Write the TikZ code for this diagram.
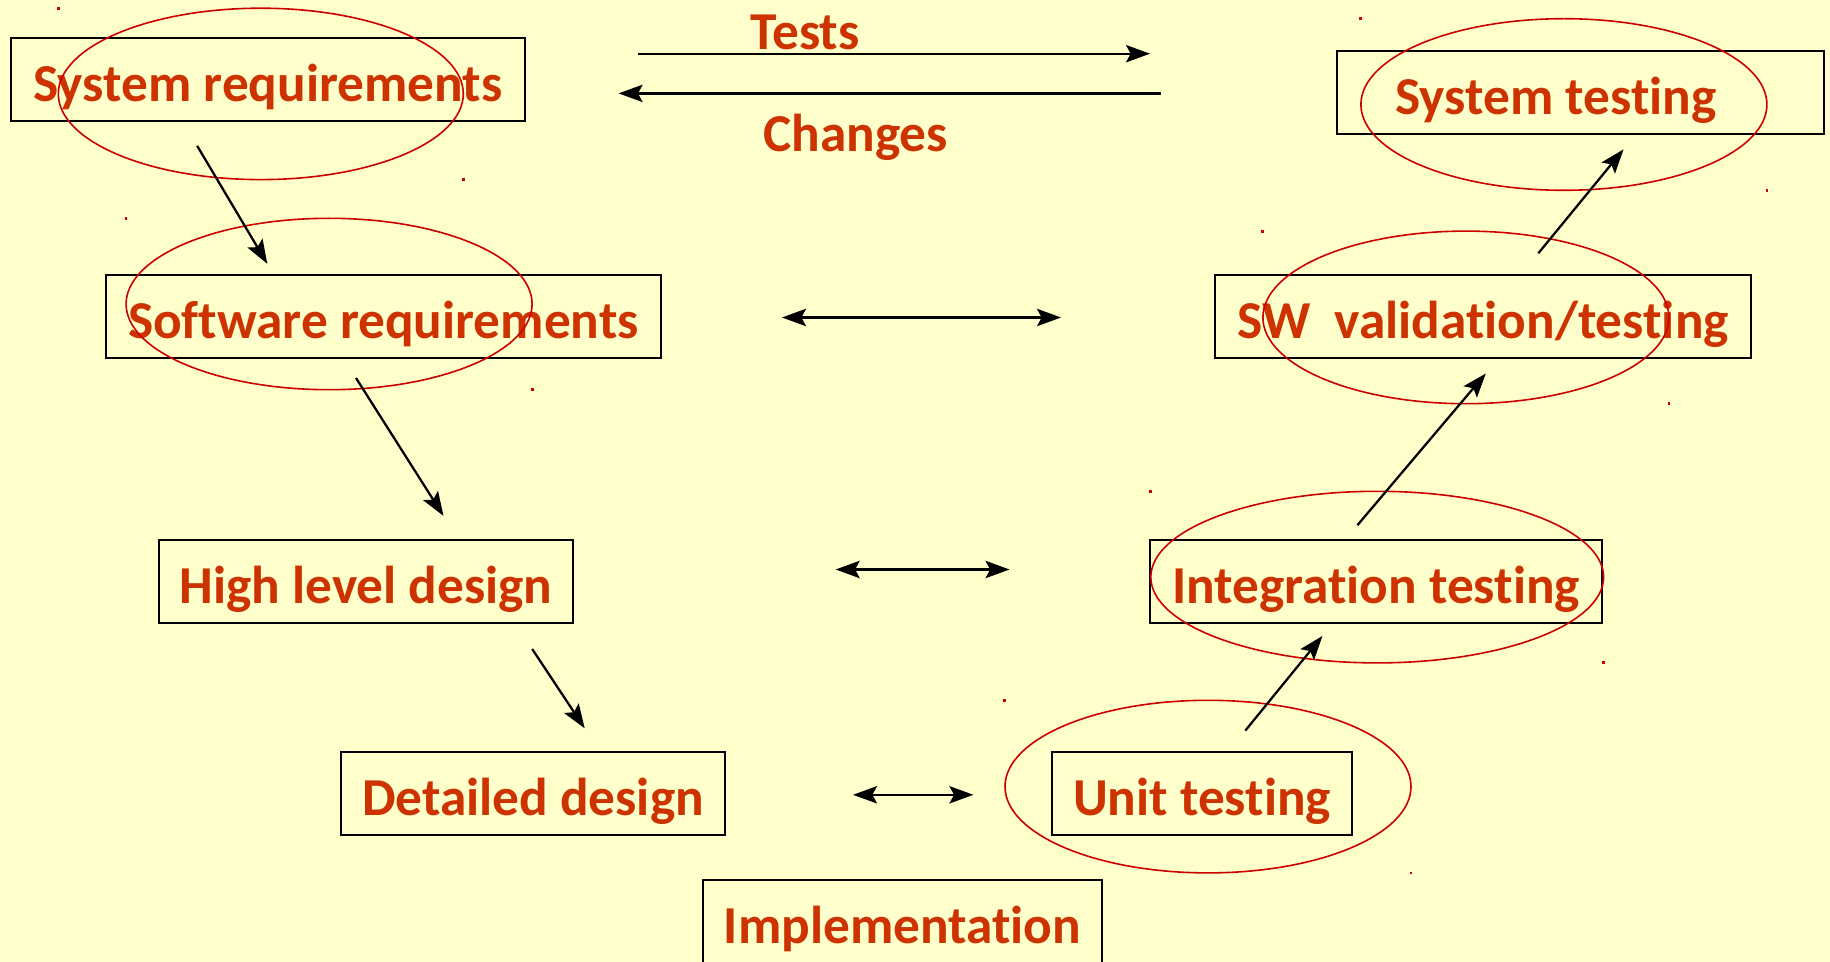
\documentclass[tikz,border=0pt]{standalone}
\usepackage{fontspec}
\setmainfont{Carlito}[Ligatures=CommonOff]
\usetikzlibrary{arrows.meta}
\definecolor{paper}{RGB}{255,255,204}
\definecolor{labelred}{RGB}{204,51,0}
\definecolor{ringred}{RGB}{204,0,0}
\tikzset{
  stagebox/.style={draw=black, line width=1.8pt, minimum height=62.25pt, inner sep=0pt},
  stagetext/.style={text=labelred, font=\bfseries\fontsize{40}{48}\selectfont, anchor=base, inner sep=0pt},
  ring/.style={draw=ringred, line width=1.2pt},
  head/.style={Stealth[length=18pt, width=13pt, inset=3.5pt]},
  flow/.style={line width=1.7pt, -{Stealth[length=18pt, width=13pt, inset=3.5pt]}},
  twoway/.style={line width=1.7pt, {Stealth[length=18pt, width=13pt, inset=3.5pt]}-{Stealth[length=18pt, width=13pt, inset=3.5pt]}},
  speck/.style={fill=ringred, inner sep=0pt, minimum size=2.2pt}
}
\begin{document}
\begin{tikzpicture}[x=0.75pt, y=-0.75pt]
\fill[paper] (0,0) rectangle (1830,962);
\useasboundingbox (0,0) rectangle (1830,962);

% stage boxes (left leg: specification, right leg: verification)
\node[stagebox, minimum width=385.5pt] (sysreq) at (268,79.5) {};
\node[stagebox, minimum width=416.25pt] (swreq) at (383.5,316.5) {};
\node[stagebox, minimum width=310.5pt] (hld) at (366,581.5) {};
\node[stagebox, minimum width=288pt] (dd) at (533,793.5) {};
\node[stagebox, minimum width=299.25pt] (impl) at (902.5,921.5) {};
\node[stagebox, minimum width=365.25pt] (systest) at (1580.5,92.5) {};
\node[stagebox, minimum width=402pt] (swval) at (1483,316.5) {};
\node[stagebox, minimum width=339pt] (integ) at (1376,581.5) {};
\node[stagebox, minimum width=225pt] (unit) at (1202,793.5) {};

% stage labels
\node[stagetext] (t-sysreq) at (268,101.5) {System requirements};
\node[stagetext] (t-swreq) at (383.5,338.5) {Software requirements};
\node[stagetext] (t-hld) at (366,603.5) {High level design};
\node[stagetext] (t-dd) at (533,815.5) {Detailed design};
\node[stagetext] (t-impl) at (902.5,943.5) {Implementation};
\node[stagetext] (t-systest) at (1556,114.5) {System testing};
\node[stagetext] (t-swval) at (1483,338.5) {SW\ \ validation/testing};
\node[stagetext] (t-integ) at (1376,603.5) {Integration testing};
\node[stagetext] (t-unit) at (1202,815.5) {Unit testing};

% highlight rings around the stages
\draw[ring] (260.8,93.9) ellipse [x radius=202.5, y radius=85.7];
\draw[ring] (329.1,304) ellipse [x radius=203, y radius=85.7];
\draw[ring] (1563.9,104.5) ellipse [x radius=203, y radius=85.8];
\draw[ring] (1465.9,317.4) ellipse [x radius=203, y radius=86.3];
\draw[ring] (1377.2,577.1) ellipse [x radius=226.4, y radius=85.8];
\draw[ring] (1208,786.6) ellipse [x radius=203, y radius=86.3];

% small marks at the corners of each ring's frame
\foreach \px/\py in {58.4/8.2, 463.3/179.7, 126/218.3, 532.2/389.8,
    1360.8/18.7, 1767/190.2, 1262.8/231.1, 1669/403.8,
    1150.8/491.3, 1603.6/662.9, 1004.9/700.3, 1411/873}
  \node[speck] at (\px,\py) {};

% arrow end points
\coordinate (testsA) at (638,53.7);
\coordinate (testsB) at (1150,53.7);
\coordinate (chgA) at (1161,93.4);
\coordinate (chgB) at (618.6,93.4);
\coordinate (d1a) at (197.2,145.9);
\coordinate (d1b) at (267.3,263.8);
\coordinate (d2a) at (356,378);
\coordinate (d2b) at (443.5,515.9);
\coordinate (d3a) at (532.2,649);
\coordinate (d3b) at (584.7,728.3);
\coordinate (u1a) at (1245.3,730.6);
\coordinate (u1b) at (1322.4,636);
\coordinate (u2a) at (1357.4,525.2);
\coordinate (u2b) at (1485.8,373.5);
\coordinate (u3a) at (1538.3,253.3);
\coordinate (u3b) at (1623.5,149.4);
\coordinate (h1a) at (782,317.5);
\coordinate (h1b) at (1061,317.5);
\coordinate (h2a) at (835.7,569.5);
\coordinate (h2b) at (1009.5,569.5);
\coordinate (h3a) at (853,794.8);
\coordinate (h3b) at (973.4,794.8);

% tests and changes between the two top stages
\draw[flow] (testsA) -- (testsB);
\draw[flow] (chgA) -- (chgB);
\node[stagetext, anchor=center] (tests) at (805,32.7) {Tests};
\node[stagetext, anchor=center] (changes) at (855.5,137.7) {Changes};

% descending and ascending legs
\draw[flow] (d1a) -- (d1b);
\draw[flow] (d2a) -- (d2b);
\draw[flow] (d3a) -- (d3b);
\draw[flow] (u1a) -- (u1b);
\draw[flow] (u2a) -- (u2b);
\draw[flow] (u3a) -- (u3b);

% correspondence between levels
\draw[twoway] (h1a) -- (h1b);
\draw[twoway] (h2a) -- (h2b);
\draw[twoway] (h3a) -- (h3b);
\end{tikzpicture}
\end{document}
